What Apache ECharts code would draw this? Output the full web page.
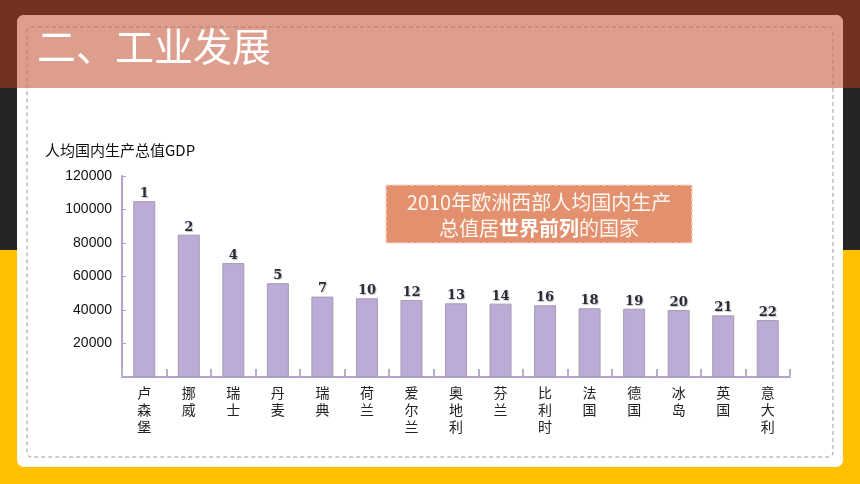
<!DOCTYPE html>
<html>
<head>
<meta charset="utf-8">
<script src="https://cdn.jsdelivr.net/npm/echarts@6/dist/echarts.min.js"></script>
<style>
html,body{margin:0;padding:0;background:#fff;}
#c{width:860px;height:484px;}
</style>
</head>
<body>
<div id="c"></div>
<script>
var countries = ['卢森堡','挪威','瑞士','丹麦','瑞典','荷兰','爱尔兰','奥地利','芬兰','比利时','法国','德国','冰岛','英国','意大利'];
var gdpValues = [105000, 85000, 68000, 56000, 48000, 47000, 46000, 44000, 43800, 42800, 41000, 40800, 40000, 36800, 34000];
var worldRanks = [1, 2, 4, 5, 7, 10, 12, 13, 14, 16, 18, 19, 20, 21, 22];
var yMax = 120000;
var yStep = 20000;
var titleText = '二、工业发展';
var yAxisTitle = '人均国内生产总值GDP';

var chart = echarts.init(document.getElementById('c'), null, {renderer: 'canvas'});
var option = {
  animation: false,
  graphic: [
    {type: 'rect', z: -100, shape: {x: 0, y: 0, width: 860, height: 88}, style: {fill: '#743020'}},
    {type: 'rect', z: -100, shape: {x: 0, y: 88, width: 860, height: 162}, style: {fill: '#252525'}},
    {type: 'rect', z: -100, shape: {x: 0, y: 250, width: 860, height: 234}, style: {fill: '#FFC000'}},
    {type: 'rect', z: -90, shape: {x: 17, y: 15, width: 826, height: 452, r: 7}, style: {fill: '#ffffff'}},
    {type: 'rect', z: -80, shape: {x: 27, y: 27, width: 806, height: 430, r: 4}, style: {fill: 'none', stroke: '#9a9a9a', lineWidth: 1, lineDash: [4, 3]}},
    {type: 'rect', z: -70, shape: {x: 17, y: 15, width: 826, height: 73, r: [7, 7, 0, 0]}, style: {fill: 'rgba(204,108,84,0.66)'}},
    {type: 'text', z: -60, x: 37, y: 46, style: {text: titleText, fill: '#ffffff', font: '39px "Noto Sans CJK SC"', verticalAlign: 'middle', align: 'left'}},
    {type: 'text', z: 10, x: 45, y: 150, style: {text: yAxisTitle, fill: '#111', font: '15px "Noto Sans CJK SC"', verticalAlign: 'middle', align: 'left'}},
    {type: 'group', z: 100, x: 386, y: 185, children: [
      {type: 'rect', z: 100, shape: {x: 0, y: 0, width: 306, height: 58}, style: {fill: '#E3906F', stroke: '#F6D6C8', lineWidth: 1.5, lineDash: [4, 2]}},
      {type: 'text', z: 101, x: 153, y: 30, style: {
        text: '{a|2010年欧洲西部人均国内生产}\n{a|总值居}{b|世界前列}{a|的国家}',
        align: 'center', verticalAlign: 'middle',
        rich: {
          a: {fontSize: 20, fontFamily: '"Noto Sans CJK SC"', fontWeight: 'normal', fill: '#FFF6F0', lineHeight: 26},
          b: {fontSize: 20, fontFamily: '"Noto Sans CJK SC"', fontWeight: 'bold', fill: '#FFFFFF', lineHeight: 26}
        }
      }}
    ]}
  ],
  grid: {left: 122, right: 70, top: 176, bottom: 107, containLabel: false},
  xAxis: {
    type: 'category',
    data: countries,
    boundaryGap: true,
    axisLine: {show: true, lineStyle: {color: '#B3A3CE', width: 2}},
    axisTick: {show: true, inside: true, length: 8, alignWithLabel: false, lineStyle: {color: '#B8AFCB', width: 2}},
    axisLabel: {
      margin: 7,
      color: '#222',
      fontSize: 14,
      lineHeight: 17,
      fontFamily: '"Noto Sans CJK SC"',
      interval: 0,
      formatter: function (v) { return v.split('').join('\n'); }
    }
  },
  yAxis: {
    type: 'value',
    min: 0,
    max: yMax,
    interval: yStep,
    axisLine: {show: true, lineStyle: {color: '#B3A3CE', width: 2}},
    axisTick: {show: true, inside: true, length: 4, lineStyle: {color: '#B3A3CE', width: 1}},
    splitLine: {show: false},
    axisLabel: {
      margin: 10,
      color: '#111',
      fontSize: 14,
      fontFamily: '"Liberation Sans", Arial',
      formatter: function (v) { return v === 0 ? '' : String(v); }
    }
  },
  series: [{
    type: 'bar',
    data: gdpValues,
    barWidth: 22,
    itemStyle: {color: '#BCAAD7', borderColor: '#A49CB0', borderWidth: 1},
    label: {
      show: true,
      position: 'top',
      distance: 1,
      color: '#2a2a38',
      fontSize: 13,
      fontWeight: 'bold',
      fontFamily: '"DejaVu Serif", "Liberation Serif", serif',
      textShadowColor: 'rgba(0,0,0,0.25)',
      textShadowBlur: 1,
      textShadowOffsetX: 1,
      textShadowOffsetY: 1,
      formatter: function (p) { return String(worldRanks[p.dataIndex]); }
    }
  }]
};
chart.setOption(option);
</script>
</body>
</html>
